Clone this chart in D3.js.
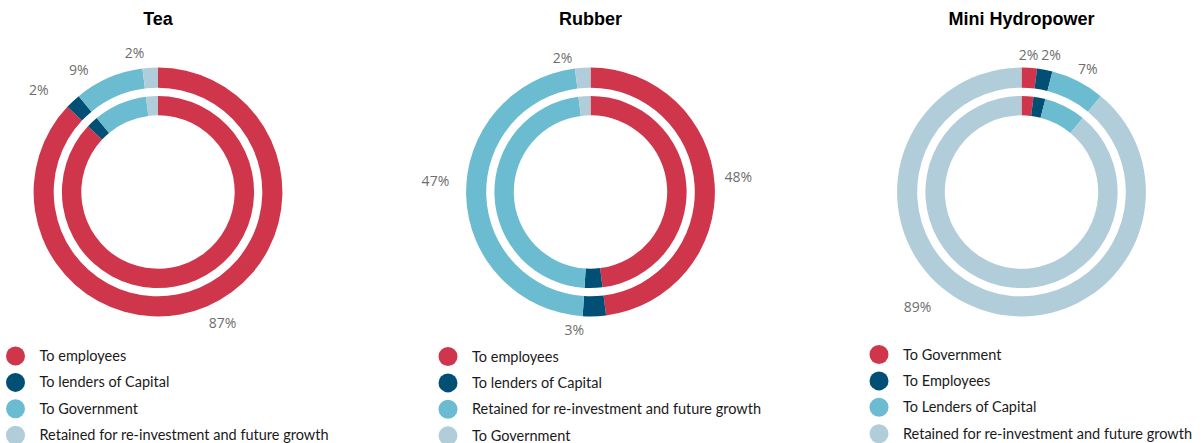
<!DOCTYPE html>
<html>
<head>
<meta charset="utf-8">
<script src="https://cdn.jsdelivr.net/npm/d3@7"></script>
<style>
  html, body { margin: 0; padding: 0; background: #fff; }
  svg { display: block; }
</style>
</head>
<body>
<svg id="chart" width="1202" height="443"></svg>
<script>
// Distribution of value created, by business segment (% share)
const panelTitles = ["Tea", "Rubber", "Mini Hydropower"];

const teaCategories = ["To employees", "To lenders of Capital", "To Government", "Retained for re-investment and future growth"];
const teaValues = [87, 2, 9, 2];

const rubberCategories = ["To employees", "To lenders of Capital", "Retained for re-investment and future growth", "To Government"];
const rubberValues = [48, 3, 47, 2];

const hydroCategories = ["To Government", "To Employees", "To Lenders of Capital", "Retained for re-investment and future growth"];
const hydroValues = [2, 2, 7, 89];

// Slice colours, in slice order (same palette for every panel)
const sliceColors = ["#d0364b", "#024f75", "#6bbcd0", "#b1cdd9"];

// Percentage label placement: [angle shift in degrees from slice middle, distance from centre]
const teaLabelShift = [[-2.8, 146], [-6.2, 157], [-9.6, 145.5], [-6, 140.5]];
const rubberLabelShift = [[-2.3, 148.5], [8.5, 139.5], [6, 155.5], [-8.2, 137]];
const hydroLabelShift = [[-0.7, 137], [1.4, 140], [1.2, 140], [22.3, 155]];

const panels = [
  { title: panelTitles[0], categories: teaCategories, values: teaValues, shift: teaLabelShift, cx: 158, legendY: 356 },
  { title: panelTitles[1], categories: rubberCategories, values: rubberValues, shift: rubberLabelShift, cx: 590.5, legendY: 356.5 },
  { title: panelTitles[2], categories: hydroCategories, values: hydroValues, shift: hydroLabelShift, cx: 1021.5, legendY: 354.5 }
];

const cy = 192;
const rings = [
  { inner: 104.3, outer: 124.4 },
  { inner: 76.7, outer: 96.1 }
];

const svg = d3.select("#chart");
svg.append("rect").attr("width", 1202).attr("height", 443).attr("fill", "#fff");

const pie = d3.pie().sort(null).value(d => d);
const color = d3.scaleOrdinal().domain(d3.range(4)).range(sliceColors);

panels.forEach(p => {
  const g = svg.append("g");

  // Title
  g.append("text")
    .attr("x", p.cx)
    .attr("y", 25)
    .attr("text-anchor", "middle")
    .attr("font-family", "'Liberation Sans', Arial, sans-serif")
    .attr("font-weight", "bold")
    .attr("font-size", 18)
    .attr("fill", "#000")
    .text(p.title);

  const arcsData = pie(p.values);
  const donut = g.append("g").attr("transform", `translate(${p.cx},${cy})`);

  // Two concentric rings
  rings.forEach(r => {
    const arc = d3.arc().innerRadius(r.inner).outerRadius(r.outer);
    donut.append("g")
      .selectAll("path")
      .data(arcsData)
      .join("path")
      .attr("d", arc)
      .attr("fill", (d, i) => color(i));
  });

  // Percentage labels around the outer ring
  donut.append("g")
    .selectAll("text")
    .data(arcsData)
    .join("text")
    .attr("transform", (d, i) => {
      const a = (d.startAngle + d.endAngle) / 2 + p.shift[i][0] * Math.PI / 180;
      const rr = p.shift[i][1];
      return `translate(${rr * Math.sin(a)},${-rr * Math.cos(a)})`;
    })
    .attr("text-anchor", "middle")
    .attr("dy", "0.35em")
    .attr("font-family", "'Open Sans', sans-serif")
    .attr("font-size", 14)
    .attr("fill", "#6e6e6e")
    .text(d => d.data + "%");

  // Legend
  const legendX = p.cx - 142.5;
  const legend = g.append("g")
    .selectAll("g")
    .data(p.categories)
    .join("g")
    .attr("transform", (d, i) => `translate(${legendX},${p.legendY + i * 26.4})`);

  legend.append("circle")
    .attr("r", 9.5)
    .attr("fill", (d, i) => color(i));

  legend.append("text")
    .attr("x", 24)
    .attr("dy", "0.35em")
    .attr("font-family", "Lato, sans-serif")
    .attr("font-size", 14.5)
    .attr("fill", "#1a1a1a")
    .text(d => d);
});
</script>
</body>
</html>
